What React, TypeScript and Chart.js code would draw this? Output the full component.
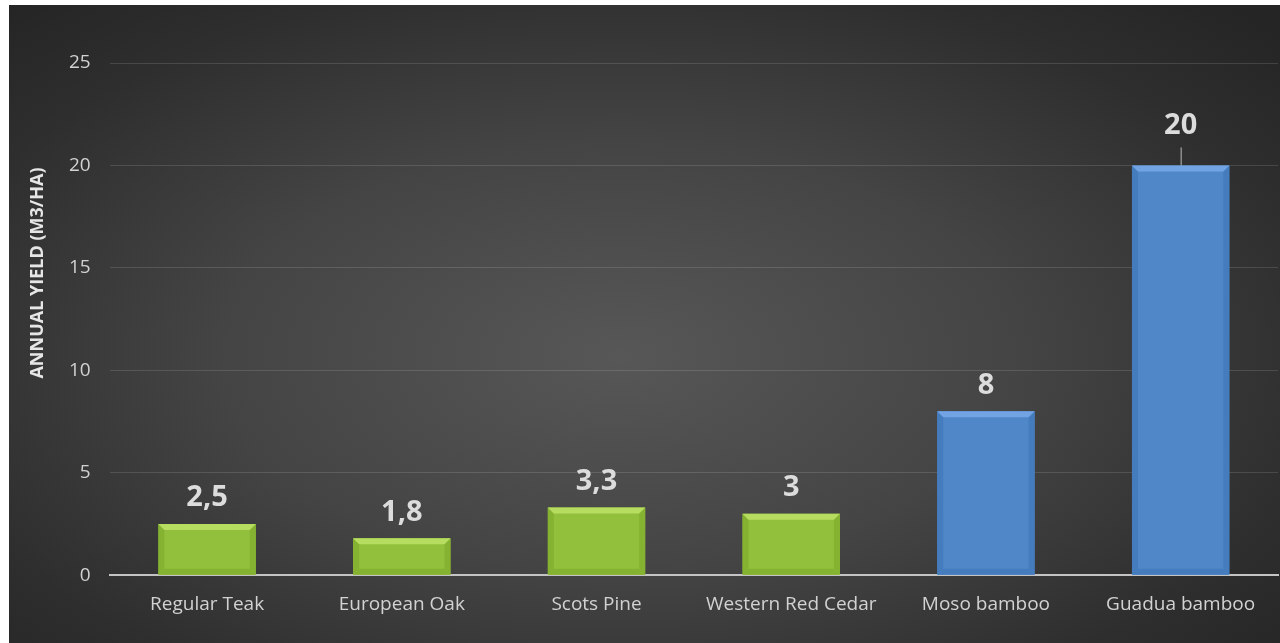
import React, { useEffect, useRef } from "react";
import { Chart, registerables } from "chart.js";

Chart.register(...registerables);

const categories = [
  "Regular Teak",
  "European Oak",
  "Scots Pine",
  "Western Red Cedar",
  "Moso bamboo",
  "Guadua bamboo",
];
const yieldValues = [2.5, 1.8, 3.3, 3, 8, 20];
const yTicks = [0, 5, 10, 15, 20, 25];
const axisTitle = "ANNUAL YIELD (M3/HA)";

const GREEN = { face: "#92bf3c", light: "#b7dd60", dark: "#86b232", side: "#86b232" };
const BLUE = { face: "#4f87c9", light: "#72a4e4", dark: "#457cbd", side: "#457cbd" };
const barStyles = [GREEN, GREEN, GREEN, GREEN, BLUE, BLUE];

const FONT = "'Open Sans', 'Noto Sans', sans-serif";

const bevelPlugin = {
  id: "bevel",
  afterDatasetsDraw(chart: any) {
    const ctx = chart.ctx;
    const meta = chart.getDatasetMeta(0);
    meta.data.forEach((bar: any, i: number) => {
      const st = barStyles[i];
      const w = bar.width;
      const l = bar.x - w / 2;
      const r = bar.x + w / 2;
      const t = bar.y;
      const b = bar.base;
      const h = b - t;
      const bv = Math.min(6, h / 3);
      ctx.save();
      ctx.fillStyle = st.side;
      ctx.beginPath();
      ctx.moveTo(l, t);
      ctx.lineTo(l + bv, t + bv);
      ctx.lineTo(l + bv, b - bv);
      ctx.lineTo(l, b);
      ctx.closePath();
      ctx.fill();
      ctx.beginPath();
      ctx.moveTo(r, t);
      ctx.lineTo(r - bv, t + bv);
      ctx.lineTo(r - bv, b - bv);
      ctx.lineTo(r, b);
      ctx.closePath();
      ctx.fill();
      ctx.fillStyle = st.light;
      ctx.beginPath();
      ctx.moveTo(l, t);
      ctx.lineTo(r, t);
      ctx.lineTo(r - bv, t + bv);
      ctx.lineTo(l + bv, t + bv);
      ctx.closePath();
      ctx.fill();
      ctx.fillStyle = st.dark;
      ctx.beginPath();
      ctx.moveTo(l, b);
      ctx.lineTo(r, b);
      ctx.lineTo(r - bv, b - bv);
      ctx.lineTo(l + bv, b - bv);
      ctx.closePath();
      ctx.fill();
      ctx.restore();
    });
  },
};

const labelPlugin = {
  id: "valueLabels",
  afterDraw(chart: any) {
    const ctx = chart.ctx;
    const meta = chart.getDatasetMeta(0);
    const maxV = Math.max(...yieldValues);
    ctx.save();
    ctx.font = `bold 29px ${FONT}`;
    ctx.fillStyle = "#dcdcdc";
    ctx.textAlign = "center";
    ctx.textBaseline = "middle";
    meta.data.forEach((bar: any, i: number) => {
      const v = yieldValues[i];
      const txt = String(v).replace(".", ",");
      if (v === maxV) {
        ctx.fillText(txt, bar.x, bar.y - 40);
        ctx.strokeStyle = "#bdbdbd";
        ctx.lineWidth = 1;
        ctx.beginPath();
        ctx.moveTo(bar.x + 0.5, bar.y - 18);
        ctx.lineTo(bar.x + 0.5, bar.y);
        ctx.stroke();
      } else {
        ctx.fillText(txt, bar.x, bar.y - 26);
      }
    });
    const ca = chart.chartArea;
    ctx.font = `bold 18px ${FONT}`;
    ctx.fillStyle = "#e6e6e6";
    ctx.translate(ca.left - 72, ca.top + (ca.bottom - ca.top) * 0.41);
    ctx.rotate(-Math.PI / 2);
    ctx.fillText(axisTitle, 0, 0);
    ctx.restore();
  },
};

export default function App() {
  const ref = useRef<HTMLCanvasElement>(null);
  useEffect(() => {
    if (!ref.current) return;
    const chart = new Chart(ref.current, {
      type: "bar",
      data: {
        labels: categories,
        datasets: [
          {
            data: yieldValues,
            backgroundColor: barStyles.map((s) => s.face),
            borderWidth: 0,
            barPercentage: 0.5,
            categoryPercentage: 1,
          },
        ],
      },
      options: {
        animation: false,
        responsive: true,
        maintainAspectRatio: false,
        layout: { padding: { left: 41, right: 2, top: 58, bottom: 9 } },
        plugins: { legend: { display: false }, tooltip: { enabled: false } },
        scales: {
          x: {
            grid: { display: false, drawTicks: false },
            border: { display: true, color: "#c4c4c4", width: 2 },
            ticks: {
              color: "#d2d2d2",
              font: { family: FONT, size: 19 },
              padding: 18,
            },
          },
          y: {
            min: 0,
            max: 25,
            afterBuildTicks: (axis: any) => {
              axis.ticks = yTicks.map((v) => ({ value: v }));
            },
            grid: { color: "rgba(255,255,255,0.13)", drawTicks: false, lineWidth: 1 },
            border: { display: false },
            ticks: {
              color: "#d2d2d2",
              font: { family: FONT, size: 19 },
              padding: 19,
            },
          },
        },
      },
      plugins: [bevelPlugin, labelPlugin],
    });
    return () => chart.destroy();
  }, []);

  return (
    <div
      style={{
        position: "absolute",
        left: 9,
        top: 5,
        width: 1271,
        height: 638,
        background:
          "radial-gradient(ellipse 70% 75% at 48% 55%, #575757 0%, #444 45%, #2e2e2e 80%, #252525 100%)",
      }}
    >
      <canvas ref={ref} />
    </div>
  );
}
